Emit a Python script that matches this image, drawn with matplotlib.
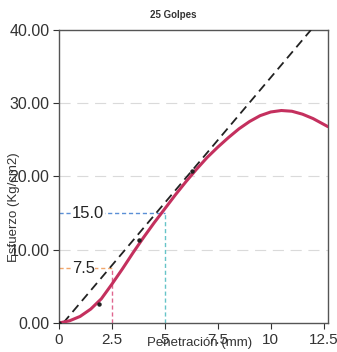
import matplotlib
matplotlib.use("Agg")
import matplotlib.pyplot as plt

plt.rcParams['font.family'] = ['Liberation Sans', 'DejaVu Sans']

# Curve
pen_mm = [0, 0.5, 1, 1.5, 2, 2.5, 3, 3.5, 4, 4.5, 5, 5.5, 6, 6.5, 7, 7.5, 8,
          8.5, 9, 9.5, 10, 10.5, 11, 11.5, 12, 12.7]
esfuerzo = [0, 0.3, 0.9, 1.9, 3.3, 5.3, 7.4, 9.6, 11.7, 13.7, 15.6, 17.5, 19.3,
            21.0, 22.6, 24.0, 25.3, 26.5, 27.5, 28.3, 28.8, 29.0, 28.9, 28.5,
            27.9, 26.8]

# Measured points
pts_x = [0, 1.9, 3.8, 6.3]
pts_y = [0, 2.6, 11.3, 20.7]

# Correction line (dashed)
corr_x = [0.2, 11.9]
corr_y = [0, 40]

# Reference values
ref_pen = [2.5, 5.0]
ref_val = [7.5, 15.0]
ref_labels = ["7.5", "15.0"]
h_colors = ["#f2a66a", "#5b8fd6"]
v_colors = ["#e0668f", "#66c4c8"]

xticks = [0, 2.5, 5, 7.5, 10, 12.5]
xticklabels = ["0", "2.5", "5", "7.5", "10", "12.5"]
yticks = [0, 10, 20, 30, 40]
yticklabels = ["0.00", "10.00", "20.00", "30.00", "40.00"]

fig = plt.figure(figsize=(3.37, 3.52), dpi=100)
ax = fig.add_axes([0.175, 0.0824, 0.798, 0.8326])

ax.set_xlim(0, 12.7)
ax.set_ylim(0, 40)

for yv in [10, 20, 30]:
    ax.axhline(yv, color="#dadada", lw=0.8, dashes=(10, 6), zorder=0)

for (px, val, lab, hc, vc) in zip(ref_pen, ref_val, ref_labels, h_colors, v_colors):
    ax.plot([0, px], [val, val], color=hc, lw=1.0, dashes=(3, 2), zorder=1)
    ax.plot([px, px], [0, val], color=vc, lw=1.0, dashes=(3, 2), zorder=1)
    ax.text(0.6, val, lab, fontsize=12, color="#222222", va="center", ha="left",
            bbox=dict(facecolor="white", edgecolor="none", pad=0.5), zorder=2)

ax.plot(corr_x, corr_y, color="#222222", lw=1.3, dashes=(5, 3), zorder=3)
ax.plot(pen_mm, esfuerzo, color="#c4305e", lw=2.2, zorder=4, solid_capstyle="round")
ax.plot(pts_x, pts_y, "o", color="#222222", ms=2.2, zorder=5)

ax.set_xticks(xticks)
ax.set_xticklabels(xticklabels)
ax.set_yticks(yticks)
ax.set_yticklabels(yticklabels)
ax.tick_params(axis="both", colors="#333333", length=4, width=0.8)
ax.tick_params(axis="x", pad=3, labelsize=11)
ax.tick_params(axis="y", pad=3, labelsize=11.5)
for sp in ax.spines.values():
    sp.set_color("#555555")
    sp.set_linewidth(1.0)

ax.set_xlabel("Penetración (mm)", fontsize=9.5, color="#333333")
ax.xaxis.set_label_coords(0.524, -0.068)
ax.xaxis.label.set_va("center")
ax.set_ylabel("Esfuerzo (Kg/cm2)", fontsize=9.5, color="#333333")
ax.yaxis.set_label_coords(-0.167, 0.396)
ax.yaxis.label.set_va("center")
fig.text(0.513, 0.957, "25 Golpes", fontsize=7, fontweight="bold", color="#333333",
         ha="center", va="center")

fig.savefig("out.png", dpi=100)
